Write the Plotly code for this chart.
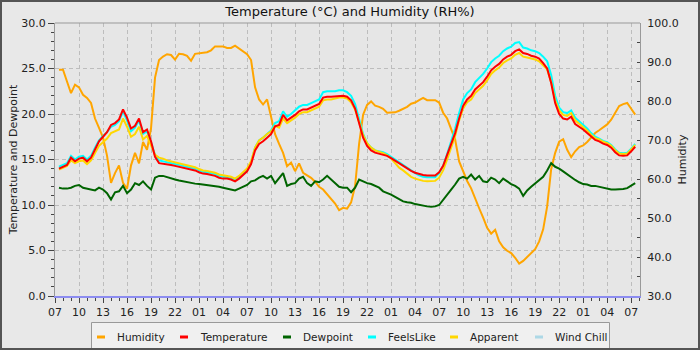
import pandas as pd
import plotly.graph_objects as go

# ---------------- data ----------------
START = pd.Timestamp("2024-06-10 07:00")
HOURS = [0.5 * k for k in range(1, 146)]  # hours after 07:00 on day 1 (0.5 .. 72.5)

HUMIDITY = [
    88.0, 88.0, 85.0, 82.0, 84.2, 83.5, 81.6, 80.8, 79.5, 75.5,
    73.1, 70.6, 66.0, 59.0, 61.5, 63.5, 59.0, 57.5, 63.5, 66.7,
    64.0, 69.5, 67.5, 73.0, 86.0, 90.5, 91.4, 92.0, 91.8, 90.6,
    92.1, 92.0, 91.6, 90.3, 92.1, 92.2, 92.3, 92.5, 93.0, 94.0,
    94.0, 94.0, 93.6, 93.6, 94.2, 93.5, 92.7, 92.0, 90.5, 83.5,
    80.4, 79.1, 80.4, 75.5, 71.5, 69.0, 66.7, 63.3, 64.2, 62.0,
    64.0, 61.6, 61.0, 60.3, 59.3, 58.0, 57.3, 56.0, 55.0, 53.7,
    52.0, 52.6, 52.4, 54.0, 58.2, 69.0, 76.5, 79.0, 79.9, 78.8,
    78.5, 78.0, 77.0, 77.1, 77.1, 77.5, 77.9, 78.5, 79.3, 79.6,
    80.2, 80.8, 80.2, 80.2, 80.2, 79.6, 77.0, 75.5, 73.0, 70.1,
    64.5, 62.0, 59.5, 57.6, 54.8, 52.5, 50.1, 47.5, 46.0, 47.0,
    44.0, 42.5, 41.6, 41.0, 39.8, 38.3, 39.0, 40.0, 40.9, 42.0,
    44.0, 47.1, 53.0, 62.5, 66.7, 69.6, 70.2, 67.5, 65.6, 67.1,
    68.2, 68.6, 69.5, 70.8, 71.8, 72.5, 73.2, 74.0, 75.2, 77.0,
    78.7, 79.2, 79.5, 78.0, 76.5,
]

TEMPERATURE = [
    14.0, 14.2, 14.4, 15.2, 14.8, 15.1, 15.2, 14.8, 15.2, 16.1,
    17.0, 17.5, 18.0, 18.8, 19.0, 19.4, 20.5, 19.6, 18.4, 18.7,
    19.5, 18.0, 18.3, 17.0, 15.3, 14.6, 14.55, 14.5, 14.4, 14.3,
    14.2, 14.15, 14.05, 13.95, 13.8, 13.6, 13.45, 13.4, 13.3, 13.2,
    13.0, 12.9, 12.9, 12.8, 12.6, 12.9, 13.3, 13.7, 14.5, 16.0,
    16.7, 17.0, 17.4, 17.8, 18.65, 18.8, 19.9, 19.3, 19.6, 19.9,
    20.3, 20.5, 20.5, 20.7, 20.9, 21.1, 21.8, 21.9, 21.9, 21.95,
    22.0, 22.0, 21.9, 21.5, 20.6, 19.0, 17.4, 16.5, 16.0, 15.75,
    15.65, 15.55, 15.4, 15.15, 14.85, 14.55, 14.3, 14.0, 13.75, 13.55,
    13.4, 13.3, 13.25, 13.25, 13.25, 13.6, 14.3, 15.5, 16.7, 17.9,
    19.5, 20.9, 21.6, 22.0, 22.7, 23.1, 23.5, 24.1, 24.8, 25.2,
    25.5, 26.0, 26.3, 26.5, 26.9, 27.1, 26.7, 26.6, 26.4, 26.3,
    26.1, 25.6, 25.0, 23.4, 21.2, 20.0, 19.5, 19.4, 19.7, 18.9,
    18.6, 18.3, 17.9, 17.5, 17.15, 17.0, 16.75, 16.6, 16.3, 15.8,
    15.45, 15.4, 15.45, 15.9, 16.4,
]

DEWPOINT = [
    11.9, 11.8, 11.8, 11.9, 12.1, 12.2, 11.9, 11.8, 11.7, 11.6,
    11.9, 11.7, 11.3, 10.6, 11.4, 11.5, 12.1, 11.3, 11.7, 12.4,
    12.2, 12.6, 12.1, 11.7, 13.0, 13.2, 13.2, 13.05, 12.95, 12.8,
    12.7, 12.6, 12.5, 12.45, 12.35, 12.3, 12.25, 12.15, 12.1, 12.1,
    12.0, 11.9, 11.8, 11.7, 11.6, 11.8, 12.0, 12.2, 12.6, 12.7,
    13.0, 13.2, 12.9, 13.2, 12.4, 13.0, 13.5, 12.1, 12.3, 12.4,
    12.9, 13.1, 12.4, 12.1, 12.6, 12.5, 12.8, 13.2, 12.8, 12.4,
    12.0, 11.9, 11.9, 11.4, 11.9, 12.8, 12.6, 12.4, 12.3, 12.1,
    11.9, 11.5, 11.35, 11.15, 10.9, 10.65, 10.4, 10.3, 10.25, 10.1,
    10.0, 9.9, 9.85, 9.8, 9.85, 10.0, 10.6, 11.2, 11.7, 12.25,
    12.9, 13.1, 12.9, 13.35, 12.8, 13.2, 12.6, 12.5, 13.0, 12.8,
    12.4, 12.9, 12.6, 12.3, 12.1, 11.8, 11.0, 11.6, 12.0, 12.4,
    12.7, 13.1, 13.8, 14.6, 14.2, 14.0, 13.7, 13.35, 13.05, 12.75,
    12.5, 12.3, 12.25, 12.1, 12.1, 12.0, 11.9, 11.8, 11.7, 11.7,
    11.7, 11.75, 11.85, 12.1, 12.4,
]

FEELSLIKE = [
    14.2, 14.4, 14.6, 15.4, 15.0, 15.3, 15.4, 15.0, 15.4, 16.3,
    17.1, 17.6, 18.0, 18.6, 18.8, 19.2, 20.3, 19.3, 18.1, 18.5,
    19.3, 17.8, 18.1, 16.9, 15.5, 14.9, 14.8, 14.7, 14.6, 14.5,
    14.4, 14.35, 14.25, 14.15, 14.0, 13.8, 13.65, 13.6, 13.5, 13.4,
    13.2, 13.1, 13.1, 13.0, 12.8, 13.1, 13.5, 13.9, 14.7, 16.3,
    17.1, 17.4, 17.8, 18.2, 19.0, 19.2, 20.3, 19.7, 20.0, 20.4,
    20.8, 21.0, 21.0, 21.2, 21.4, 21.6, 22.4, 22.5, 22.5, 22.5,
    22.6, 22.6, 22.4, 22.0, 21.1, 19.4, 17.8, 16.8, 16.3, 16.0,
    15.9, 15.8, 15.6, 15.3, 14.95, 14.65, 14.35, 14.05, 13.75, 13.5,
    13.25, 13.1, 13.05, 13.05, 13.05, 13.5, 14.3, 15.6, 17.0, 18.4,
    20.1, 21.6, 22.3, 22.7, 23.5, 23.9, 24.4, 25.0, 25.7, 26.1,
    26.4, 26.9, 27.2, 27.4, 27.8, 27.9, 27.3, 27.2, 27.0, 26.9,
    26.7, 26.3, 25.8, 24.3, 22.0, 20.7, 20.2, 20.1, 20.4, 19.6,
    19.2, 18.9, 18.4, 17.9, 17.5, 17.3, 17.05, 16.9, 16.6, 16.1,
    15.75, 15.7, 15.75, 16.2, 16.7,
]

APPARENT = [
    13.9, 14.1, 14.3, 14.9, 14.6, 14.8, 14.9, 14.5, 14.9, 15.7,
    16.5, 16.9, 17.3, 17.9, 18.1, 18.3, 19.5, 18.6, 17.5, 17.8,
    18.6, 17.2, 17.6, 16.5, 15.5, 15.2, 15.1, 14.9, 14.8, 14.7,
    14.6, 14.5, 14.4, 14.3, 14.15, 13.95, 13.8, 13.75, 13.65, 13.55,
    13.35, 13.25, 13.2, 13.1, 12.9, 13.2, 13.6, 14.0, 14.8, 16.3,
    17.1, 17.4, 17.8, 18.1, 18.7, 18.5, 19.5, 19.0, 19.3, 19.6,
    20.0, 20.2, 20.2, 20.4, 20.6, 20.8, 21.5, 21.6, 21.6, 21.7,
    21.8, 21.8, 21.7, 21.3, 20.5, 19.1, 17.7, 16.8, 16.3, 16.0,
    15.85, 15.7, 15.45, 15.1, 14.6, 14.1, 13.8, 13.4, 13.1, 12.9,
    12.75, 12.65, 12.6, 12.6, 12.65, 13.0, 13.8, 15.0, 16.3, 17.6,
    19.3, 20.6, 21.3, 21.6, 22.3, 22.7, 23.1, 23.7, 24.4, 24.8,
    25.1, 25.6, 25.9, 26.1, 26.5, 26.7, 26.3, 26.2, 26.1, 26.0,
    25.8, 25.4, 24.9, 23.5, 21.5, 20.4, 19.9, 19.8, 20.1, 19.3,
    18.95, 18.6, 18.15, 17.7, 17.35, 17.2, 16.95, 16.8, 16.5, 16.0,
    15.65, 15.6, 15.65, 16.1, 16.6,
]

WINDCHILL = []  # no wind chill values are drawn in the reference

LEGEND_NAMES = ["Humidity", "Temperature", "Dewpoint", "FeelsLike", "Apparent", "Wind Chill"]

X_TICK_HOURS = 3
RANGE_HOURS = 73.1

# ---------------- styling ----------------
COL = {
    "Humidity": "#ffa500",
    "Temperature": "#ff0000",
    "Dewpoint": "#006400",
    "FeelsLike": "#00ffff",
    "Apparent": "#ffd700",
    "Wind Chill": "#add8e6",
}
GRID = "#bdbdbd"
DASH = "4px,3px"
FONT = "DejaVu Sans"

W, H = 700, 350
ML, MR, MT, MB = 55, 60, 23, 54
PW, PH = W - ML - MR, H - MT - MB


def px_x(px):
    return (px - ML) / PW


def px_y(py):
    return (H - MB - py) / PH


times = [START + pd.Timedelta(hours=h) for h in HOURS]

fig = go.Figure()

# humidity on the base (right-hand) axis, drawn underneath
fig.add_trace(go.Scatter(x=times, y=HUMIDITY, name="Humidity", mode="lines",
                         line=dict(color=COL["Humidity"], width=2), yaxis="y"))

for name, vals in [("FeelsLike", FEELSLIKE), ("Apparent", APPARENT),
                   ("Temperature", TEMPERATURE), ("Dewpoint", DEWPOINT)]:
    fig.add_trace(go.Scatter(x=times, y=vals, name=name, mode="lines",
                             line=dict(color=COL[name], width=2), yaxis="y2"))

fig.add_trace(go.Scatter(x=times[:len(WINDCHILL)], y=WINDCHILL, name="Wind Chill",
                         mode="lines", line=dict(color=COL["Wind Chill"], width=2),
                         yaxis="y2"))

# ---- legend box drawn below the plot (short dash + label per series) ----
LEG_DASH_X = [97, 180, 283, 368, 450, 535]   # pixel x of each dash start
LEG_Y = 337
shapes = [
    dict(type="line", xref="paper", yref="paper", x0=0, x1=1, y0=1, y1=1,
         line=dict(color="#999999", width=1), layer="above"),
    dict(type="rect", xref="paper", yref="paper",
         x0=px_x(91.5), x1=px_x(609.5), y0=px_y(352), y1=px_y(322.5),
         line=dict(color="#999999", width=1), fillcolor="#f0f0f0", layer="above"),
]
annotations = []
for name, dx in zip(LEGEND_NAMES, LEG_DASH_X):
    shapes.append(dict(type="line", xref="paper", yref="paper",
                       x0=px_x(dx), x1=px_x(dx + 8), y0=px_y(LEG_Y), y1=px_y(LEG_Y),
                       line=dict(color=COL[name], width=3), layer="above"))
    annotations.append(dict(text=name, xref="paper", yref="paper",
                            x=px_x(dx + 19), y=px_y(LEG_Y - 0.5),
                            xanchor="left", yanchor="middle", showarrow=False,
                            borderpad=0,
                            font=dict(family=FONT, size=10.5, color="#222222")))

# dark outer frame of the image
shapes.append(dict(type="rect", xref="paper", yref="paper",
                   x0=px_x(0), x1=px_x(W), y0=px_y(H), y1=px_y(0),
                   line=dict(color="#555555", width=4), fillcolor="rgba(0,0,0,0)",
                   layer="above"))

fig.update_layout(
    width=W, height=H,
    margin=dict(l=ML, r=MR, t=MT, b=MB, pad=0, autoexpand=False),
    paper_bgcolor="#e8e8e8",
    plot_bgcolor="#e6e6e6",
    font=dict(family=FONT, size=11, color="#222222"),
    showlegend=False,
    title=dict(text="Temperature (°C) and Humidity (RH%)",
               x=0.5, xref="container", xanchor="center",
               y=1 - 11 / H, yref="container", yanchor="middle",
               font=dict(family=FONT, size=13, color="#111111")),
    xaxis=dict(
        type="date", automargin=False,
        range=[START, START + pd.Timedelta(hours=RANGE_HOURS)],
        tick0=START, dtick=X_TICK_HOURS * 3600 * 1000, tickformat="%H",
        ticks="outside", ticklen=5, tickcolor="#444444",
        tickfont=dict(size=11, color="#222222"),
        showline=True, linecolor="#8c8cf0", linewidth=2,
        showgrid=True, gridcolor=GRID, griddash=DASH, gridwidth=1,
        zeroline=False,
        minor=dict(dtick=3600 * 1000, ticks="outside", ticklen=3,
                   tickcolor="#444444", showgrid=False),
    ),
    yaxis=dict(
        range=[30, 100], side="right", dtick=10, tickformat=".1f", automargin=False,
        ticks="inside", ticklen=3, tickcolor="#444444",
        tickfont=dict(size=11, color="#222222"),
        showgrid=False, zeroline=False,
        showline=True, linecolor="#999999", linewidth=1,
        minor=dict(dtick=5, ticks="inside", ticklen=3, tickcolor="#444444", showgrid=False),
        title=dict(text="Humidity", font=dict(size=11, color="#222222"), standoff=0),
        ticklabelstandoff=4,
    ),
    yaxis2=dict(
        range=[0, 30], side="left", overlaying="y", anchor="x", automargin=False,
        dtick=5, tickformat=".1f",
        ticks="outside", ticklen=6, tickcolor="#444444",
        tickfont=dict(size=11, color="#222222"),
        showgrid=True, gridcolor=GRID, griddash=DASH, gridwidth=1,
        zeroline=False,
        showline=True, linecolor="#999999", linewidth=1,
        minor=dict(dtick=1, ticks="outside", ticklen=3, tickcolor="#444444", showgrid=False),
        title=dict(text="Temperature and Dewpoint", font=dict(size=11, color="#222222"),
                   standoff=1),
    ),
    shapes=shapes,
    annotations=annotations,
)

fig.write_html("out.html")
